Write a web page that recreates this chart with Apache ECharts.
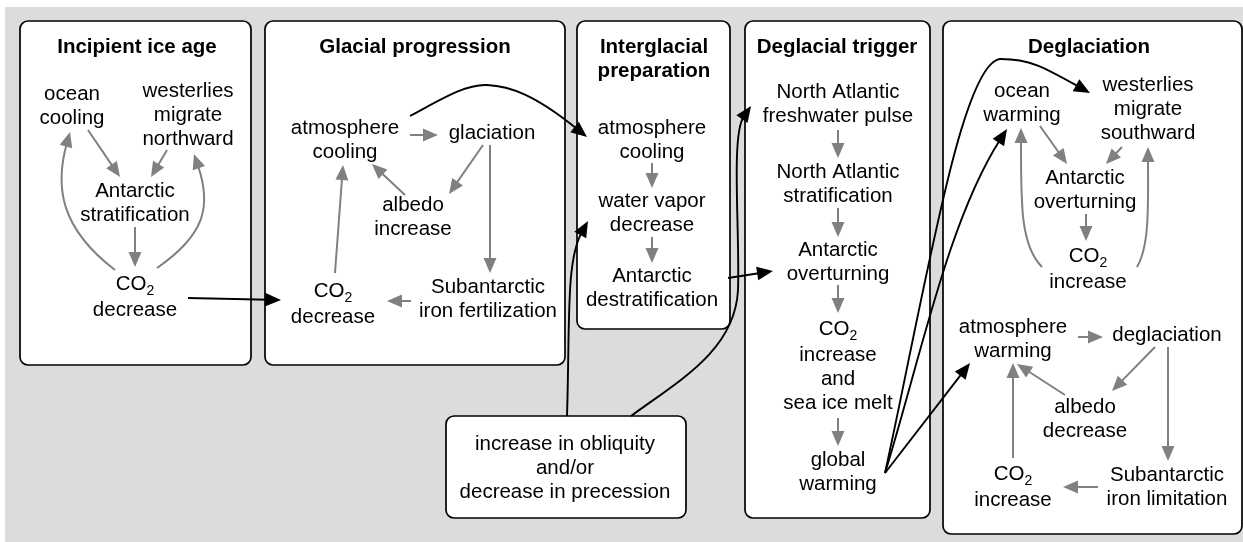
<!DOCTYPE html>
<html><head><meta charset="utf-8">
<script src="https://cdn.jsdelivr.net/npm/echarts@6/dist/echarts.min.js"></script>
<style>html,body{margin:0;padding:0;background:#fff}#c{width:1243px;height:542px}</style>
</head><body><div id="c"></div>
<script>
// ---------- diagram content ----------
const panelTitles = ['Incipient ice age','Glacial progression','Interglacial\npreparation','Deglacial trigger','Deglaciation'];
const panelTitleX = [137,415,654,837,1089];
const panelTitleY = [47,47,59,47,47];
const panelX0 = [20,265,577,745,943,446];
const panelX1 = [251,565,730,930,1242,686];
const panelY0 = [21,21,21,21,21,416];
const panelY1 = [365,365,329,518,534,518];

const nodeText = [
 'ocean\ncooling','westerlies\nmigrate\nnorthward','Antarctic\nstratification','{c|CO}{s|2}\ndecrease',
 'atmosphere\ncooling','glaciation','albedo\nincrease','Subantarctic\niron fertilization','{c|CO}{s|2}\ndecrease',
 'atmosphere\ncooling','water vapor\ndecrease','Antarctic\ndestratification',
 'North Atlantic\nfreshwater pulse','North Atlantic\nstratification','Antarctic\noverturning','{c|CO}{s|2}\nincrease\nand\nsea ice melt','global\nwarming',
 'ocean\nwarming','westerlies\nmigrate\nsouthward','Antarctic\noverturning','{c|CO}{s|2}\nincrease',
 'atmosphere\nwarming','deglaciation','albedo\ndecrease','{c|CO}{s|2}\nincrease','Subantarctic\niron limitation',
 'increase in obliquity\nand/or\ndecrease in precession'
];
const nodeX = [72,188,135,135, 345,492,413,488,333, 652,652,652, 838,838,838,838,838, 1022,1148,1085,1088, 1013,1167,1085,1013,1167, 565];
const nodeY = [106,115,203,296, 140,133,217,299,303, 140,213,288, 104,184,262,365,472, 103,109,190,268, 339,335,419,486,487, 468];

// gray feedback arrows: [x1,y1,x2(tip),y2(tip)]
const grayArrows = [
 [88,130,120,177],[167,150,151,177],[135,227,135,267],
 [410,135,438,135],[483,145,449,194],[490,145,490,273],[405,195,372,164],[411,301,387,301],[335,273,343,165],
 [652,163,652,188],[652,237,652,263],
 [838,130,838,158],[838,208,838,237],[838,285,838,313],[838,418,838,446],
 [1040,126,1067,164],[1122,147,1106,164],[1086,214,1086,241],
 [1078,337,1103,337],[1155,347,1112,391],[1168,347,1168,461],[1065,395,1017,364],[1098,487,1063,487],[1013,458,1013,363]
];
// gray curved arrows: start then cubic segments (c1, c2, end)
const grayCurves = [
 [115,270, 60,228, 58,175, 70,132],
 [157,268, 205,235, 208,195, 194,154],
 [1042,267, 1020,245, 1021,190, 1021,128],
 [1137,267, 1150,245, 1148,190, 1148,147]
];
// black straight arrows
const blackArrows = [
 [188,298,281,300],[728,278,773,271],[885,473,970,363]
];
// black curved arrows
const blackCurves = [
 [410,116, 440,100, 465,84, 487,85, 510,86, 545,103, 587,137],
 [567,416, 570,320, 572,250, 588,221],
 [631,416, 680,380, 735,350, 738,290, 740,230, 738,125, 751,106],
 [885,473, 920,360, 955,210, 1007,129],
 [885,473, 925,290, 962,59, 1001,59, 1030,59, 1056,74, 1090,93]
];

// ---------- rendering ----------
const FONT = '"Liberation Sans", Arial, Helvetica, sans-serif';
const GRAY = '#808080';
function head(tip, from, L, W, color){
  const dx = tip[0]-from[0], dy = tip[1]-from[1]; const d = Math.hypot(dx,dy)||1;
  const ux = dx/d, uy = dy/d; const bx = tip[0]-ux*L, by = tip[1]-uy*L;
  return {type:'polygon', shape:{points:[[tip[0],tip[1]],[bx-uy*W,by+ux*W],[bx+uy*W,by-ux*W]]}, style:{fill:color}};
}
function straightRender(list, color, lw, L, W){
  return function(params, api){
    const a = list[params.dataIndex];
    const p1 = api.coord([a[0],a[1]]), p2 = api.coord([a[2],a[3]]);
    const dx=p2[0]-p1[0], dy=p2[1]-p1[1], d=Math.hypot(dx,dy);
    const b=[p2[0]-dx/d*L*0.8, p2[1]-dy/d*L*0.8];
    return {type:'group', children:[
      {type:'line', shape:{x1:p1[0],y1:p1[1],x2:b[0],y2:b[1]}, style:{stroke:color,lineWidth:lw,fill:null}},
      head(p2,p1,L,W,color)]};
  };
}
function curveRender(list, color, lw, L, W){
  return function(params, api){
    const c = list[params.dataIndex];
    const pts = [];
    for (let i=0;i<c.length;i+=2) pts.push(api.coord([c[i],c[i+1]]));
    const children = [];
    const n = (pts.length-1)/3;
    for (let s=0;s<n;s++){
      const p0=pts[3*s], c1=pts[3*s+1], c2=pts[3*s+2], p3=pts[3*s+3];
      let e=p3.slice(), cc2=c2.slice();
      if (s===n-1){
        const dx=p3[0]-c2[0], dy=p3[1]-c2[1], d=Math.hypot(dx,dy);
        const ox=dx/d*L*0.8, oy=dy/d*L*0.8;
        e=[p3[0]-ox,p3[1]-oy]; cc2=[c2[0]-ox,c2[1]-oy];
        children.push(head(p3,c2,L,W,color));
      }
      children.unshift({type:'bezierCurve', shape:{x1:p0[0],y1:p0[1],cpx1:c1[0],cpy1:c1[1],cpx2:cc2[0],cpy2:cc2[1],x2:e[0],y2:e[1]},
        style:{stroke:color,lineWidth:lw,fill:null}});
    }
    return {type:'group', children};
  };
}

const chart = echarts.init(document.getElementById('c'), null, {renderer:'canvas'});
const option = {
  backgroundColor:'#ffffff',
  animation:false,
  grid:{left:0,right:0,top:0,bottom:0},
  xAxis:{type:'value',min:0,max:1243,show:false},
  yAxis:{type:'value',min:0,max:542,inverse:true,show:false},
  series:[
    {type:'custom', z:1, clip:false, data:[[5,7]], renderItem:function(p,api){
      const a=api.coord([5,7]), b=api.coord([1243,542]);
      return {type:'rect', shape:{x:a[0],y:a[1],width:b[0]-a[0],height:b[1]-a[1]}, style:{fill:'#dcdcdc'}};
    }},
    {type:'custom', z:2, clip:false, data:panelX0.map((x,i)=>[x,panelY0[i]]), renderItem:function(p,api){
      const i=p.dataIndex; const a=api.coord([panelX0[i],panelY0[i]]), b=api.coord([panelX1[i],panelY1[i]]);
      return {type:'rect', shape:{x:a[0],y:a[1],width:b[0]-a[0],height:b[1]-a[1],r:8}, style:{fill:'#ffffff',stroke:'#000',lineWidth:1.7}};
    }},
    {type:'custom', z:3, clip:false, data:grayArrows.map(a=>[a[0],a[1]]), renderItem:straightRender(grayArrows,GRAY,2,15,6.5)},
    {type:'custom', z:3, clip:false, data:grayCurves.map(a=>[a[0],a[1]]), renderItem:curveRender(grayCurves,GRAY,2,15,6.5)},
    {type:'custom', z:4, clip:false, data:blackArrows.map(a=>[a[0],a[1]]), renderItem:straightRender(blackArrows,'#000',1.9,16,6.8)},
    {type:'custom', z:4, clip:false, data:blackCurves.map(a=>[a[0],a[1]]), renderItem:curveRender(blackCurves,'#000',1.9,16,6.8)},
    {type:'custom', z:5, clip:false, data:panelTitleX.map((x,i)=>[x,panelTitleY[i]]), renderItem:function(p,api){
      const i=p.dataIndex; const a=api.coord([panelTitleX[i],panelTitleY[i]]);
      return {type:'text', x:a[0], y:a[1], style:{text:panelTitles[i], fill:'#000', fontSize:20.5, fontWeight:'bold', fontFamily:FONT, lineHeight:24, align:'center', verticalAlign:'middle'}};
    }},
    {type:'custom', z:5, clip:false, data:nodeX.map((x,i)=>[x,nodeY[i]]), renderItem:function(p,api){
      const i=p.dataIndex; const a=api.coord([nodeX[i],nodeY[i]]);
      return {type:'text', x:a[0], y:a[1], style:{text:nodeText[i], fill:'#000', fontSize:20.5, fontFamily:FONT, lineHeight:24, align:'center', verticalAlign:'middle',
        rich:{c:{fontSize:20.5,fontFamily:FONT,lineHeight:28,fill:'#000'}, s:{fontSize:14,fontFamily:FONT,lineHeight:14,verticalAlign:'bottom',fill:'#000'}}}};
    }}
  ]
};
chart.setOption(option);
</script></body></html>
